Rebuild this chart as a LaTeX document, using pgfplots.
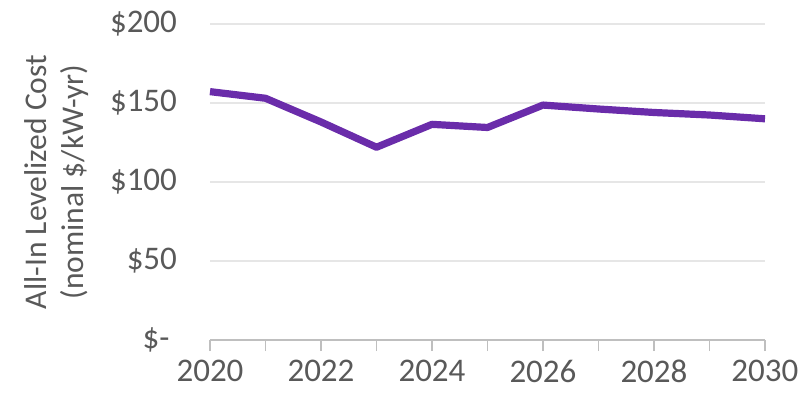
\documentclass[border=0pt]{standalone}
\usepackage{fontspec}
\setmainfont{Carlito}
\usepackage{pgfplots}
\pgfplotsset{compat=1.18}
\definecolor{txt}{HTML}{595959}
\definecolor{grid}{HTML}{E6E6E6}
\definecolor{axl}{HTML}{BFBFBF}
\definecolor{lin}{HTML}{6A2CAA}
\begin{document}
\begin{tikzpicture}
\useasboundingbox (-105pt,-26.5pt) rectangle (299.5pt,170pt);
\begin{axis}[
  at={(0,0)}, anchor=origin,
  scale only axis,
  width=277.5pt, height=158pt,
  xmin=2020, xmax=2030, ymin=0, ymax=200,
  axis line style={draw=none},
  xtick={2020,...,2030},
  xticklabels={2020,,2022,,2024,,2026,,2028,,2030},
  ytick={0,50,100,150,200},
  yticklabels={\$-\ \ ,\$50,\$100,\$150,\$200},
  xmajorgrids=false, ymajorgrids=true,
  y grid style={grid, line width=0.8pt},
  xtick pos=bottom, ytick pos=left,
  x tick style={draw=axl, line width=0.8pt},
  y tick style={draw=none},
  xtick align=outside,
  major tick length=5.5pt,
  tick label style={font=\fontsize{16.5}{18}\selectfont, text=txt},
  xticklabel style={yshift=-1pt},
  yticklabel style={xshift=-13pt},
  clip=false,
]
\draw[axl, line width=0.8pt] (axis cs:2020,0) -- (axis cs:2030,0);
\addplot[lin, line width=3.6pt, line join=round] coordinates {
(2020,157.2) (2021,153) (2022,138) (2023,122) (2024,136.5) (2025,134.5)
(2026,148.7) (2027,146.2) (2028,144) (2029,142.4) (2030,140)
};
\node[rotate=90, align=center, text=txt, font=\fontsize{15.8}{18.5}\selectfont] at ([xshift=-76.5pt]rel axis cs:0,0.5) {All-In Levelized Cost\\(nominal \$/kW-yr)};
\end{axis}
\end{tikzpicture}
\end{document}
